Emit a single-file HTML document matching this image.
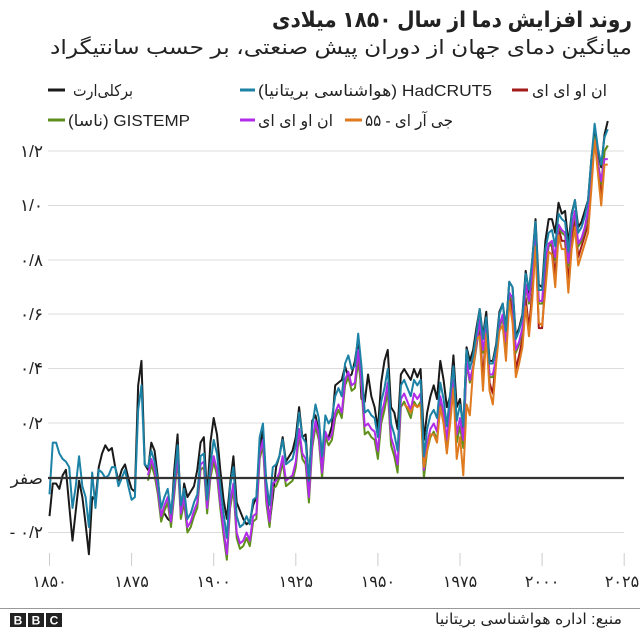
<!DOCTYPE html>
<html><head><meta charset="utf-8"><style>
html,body{margin:0;padding:0;background:#fff;}
svg{display:block;font-family:"Liberation Sans","DejaVu Sans",sans-serif;}
</style></head><body>
<svg width="640" height="631" viewBox="0 0 640 631" xmlns="http://www.w3.org/2000/svg">
<rect width="640" height="631" fill="#fff"/>
<!-- Title -->
<text x="632" y="27" font-size="22" font-weight="bold" fill="#222" direction="rtl" style="direction:rtl;unicode-bidi:embed" text-anchor="start" textLength="360" lengthAdjust="spacingAndGlyphs">روند افزایش دما از سال ۱۸۵۰ میلادی</text>
<text x="632" y="54" font-size="20" fill="#222" direction="rtl" style="direction:rtl;unicode-bidi:embed" text-anchor="start" textLength="582" lengthAdjust="spacingAndGlyphs">میانگین دمای جهان از دوران پیش صنعتی، بر حسب سانتیگراد</text>
<!-- Legend -->
<g stroke-width="3">
<line x1="48" y1="90" x2="65" y2="90" stroke="#1a1a1a"/>
<line x1="240" y1="90" x2="255" y2="90" stroke="#1c82a6"/>
<line x1="512" y1="90" x2="528" y2="90" stroke="#a31a1a"/>
<line x1="48" y1="120" x2="65" y2="120" stroke="#5f8f1c"/>
<line x1="240" y1="120" x2="255" y2="120" stroke="#b12ce8"/>
<line x1="345" y1="120" x2="362" y2="120" stroke="#e07a1f"/>
</g>
<g font-size="16" fill="#222" style="direction:rtl;unicode-bidi:embed" direction="rtl" text-anchor="start">
<text x="133" y="96" textLength="60" lengthAdjust="spacingAndGlyphs">برکلی‌ارت</text>
<text x="492" y="96" textLength="234" lengthAdjust="spacingAndGlyphs">HadCRUT5 (هواشناسی بریتانیا)</text>
<text x="607" y="96" textLength="75" lengthAdjust="spacingAndGlyphs">ان او ای ای</text>
<text x="190" y="126" textLength="122" lengthAdjust="spacingAndGlyphs">GISTEMP (ناسا)</text>
<text x="333" y="126" textLength="75" lengthAdjust="spacingAndGlyphs">ان او ای ای</text>
<text x="453" y="126" textLength="88" lengthAdjust="spacingAndGlyphs">جی آر ای - ۵۵</text>
</g>
<!-- Grid -->
<g stroke="#dcdcdc" stroke-width="1">
<line x1="48" y1="151" x2="624" y2="151"/>
<line x1="48" y1="205.5" x2="624" y2="205.5"/>
<line x1="48" y1="260" x2="624" y2="260"/>
<line x1="48" y1="314" x2="624" y2="314"/>
<line x1="48" y1="368.5" x2="624" y2="368.5"/>
<line x1="48" y1="423" x2="624" y2="423"/>
<line x1="48" y1="532.5" x2="624" y2="532.5"/>
</g>
<!-- x ticks -->
<g stroke="#cccccc" stroke-width="1">
<line x1="49.5" y1="553" x2="49.5" y2="566"/>
<line x1="131.6" y1="553" x2="131.6" y2="566"/>
<line x1="213.7" y1="553" x2="213.7" y2="566"/>
<line x1="295.8" y1="553" x2="295.8" y2="566"/>
<line x1="377.9" y1="553" x2="377.9" y2="566"/>
<line x1="460" y1="553" x2="460" y2="566"/>
<line x1="542.1" y1="553" x2="542.1" y2="566"/>
<line x1="624.2" y1="553" x2="624.2" y2="566"/>
</g>
<!-- y labels -->
<g font-size="17" fill="#222" text-anchor="end">
<text x="43" y="157">۱/۲</text>
<text x="43" y="211">۱/۰</text>
<text x="43" y="266">۰/۸</text>
<text x="43" y="320">۰/۶</text>
<text x="43" y="374">۰/۴</text>
<text x="43" y="429">۰/۲</text>
<text x="43" y="484">صفر</text>
<text x="43" y="538">- ۰/۲</text>
</g>
<!-- x labels -->
<g font-size="16" fill="#222" text-anchor="middle">
<text x="49.5" y="587">۱۸۵۰</text>
<text x="131.6" y="587">۱۸۷۵</text>
<text x="213.7" y="587">۱۹۰۰</text>
<text x="295.8" y="587">۱۹۲۵</text>
<text x="377.9" y="587">۱۹۵۰</text>
<text x="460" y="587">۱۹۷۵</text>
<text x="542.1" y="587">۲۰۰۰</text>
<text x="622" y="587">۲۰۲۵</text>
</g>
<!-- Data -->
<g transform="matrix(3.284 0 0 -272.5 49.5 478)" fill="none" stroke-width="2" stroke-linejoin="round">
<polyline vector-effect="non-scaling-stroke" stroke="#1a1a1a" points="0,-0.14 1,-0.02 2,-0.02 3,-0.04 4,0.01 5,0.03 6,-0.10 7,-0.23 8,-0.12 9,-0.01 10,-0.07 11,-0.17 12,-0.28 13,-0.07 14,-0.08 15,0.04 16,0.09 17,0.12 18,0.10 19,0.11 20,0.04 21,-0.01 22,0.03 23,0.05 24,0.00 25,-0.04 26,-0.05 27,0.34 28,0.43 29,0.05 30,0.03 31,0.13 32,0.10 33,0.00 34,-0.14 35,-0.13 36,-0.15 37,-0.16 38,0.03 39,0.16 40,-0.14 41,-0.02 42,-0.07 43,-0.05 44,-0.03 45,0.03 46,0.13 47,0.15 48,-0.07 49,0.13 50,0.22 51,0.16 52,0.03 53,-0.08 54,-0.15 55,-0.02 56,0.08 57,-0.09 58,-0.12 59,-0.15 60,-0.17 61,-0.16 62,-0.10 63,-0.07 64,0.10 65,0.18 66,-0.03 67,-0.17 68,-0.07 69,0.04 70,0.08 71,0.15 72,0.06 73,0.08 74,0.10 75,0.15 76,0.26 77,0.15 78,0.16 79,-0.02 80,0.21 81,0.23 82,0.17 83,0.03 84,0.15 85,0.15 86,0.19 87,0.34 88,0.35 89,0.36 90,0.41 91,0.37 92,0.38 93,0.43 94,0.51 95,0.29 96,0.28 97,0.38 98,0.30 99,0.26 100,0.18 101,0.35 102,0.43 103,0.47 104,0.26 105,0.24 106,0.18 107,0.38 108,0.40 109,0.38 110,0.36 111,0.40 112,0.37 113,0.40 114,0.14 115,0.24 116,0.30 117,0.34 118,0.29 119,0.43 120,0.36 121,0.26 122,0.30 123,0.45 124,0.26 125,0.29 126,0.18 127,0.48 128,0.43 129,0.47 130,0.55 131,0.62 132,0.52 133,0.61 134,0.43 135,0.43 136,0.49 137,0.61 138,0.64 139,0.55 140,0.72 141,0.70 142,0.52 143,0.55 144,0.60 145,0.76 146,0.68 147,0.80 148,0.95 149,0.71 150,0.70 151,0.87 152,0.95 153,0.95 154,0.90 155,1.01 156,0.97 157,0.98 158,0.86 159,0.97 160,1.02 161,0.92 162,0.94 163,0.98 164,1.02 165,1.17 166,1.27 167,1.20 168,1.14 169,1.26 170,1.31"/>
<polyline vector-effect="non-scaling-stroke" stroke="#a31a1a" points="129,0.42 130,0.53 131,0.55 132,0.36 133,0.56 134,0.35 135,0.31 136,0.45 137,0.57 138,0.59 139,0.46 140,0.68 141,0.60 142,0.40 143,0.45 144,0.51 145,0.66 146,0.55 147,0.68 148,0.87 149,0.55 150,0.55 151,0.72 152,0.86 153,0.85 154,0.74 155,0.92 156,0.87 157,0.87 158,0.72 159,0.87 160,0.95 161,0.81 162,0.85 163,0.89 164,0.93 165,1.09 166,1.25 167,1.16 168,1.02 169,1.20 170,1.22"/>
<polyline vector-effect="non-scaling-stroke" stroke="#5f8f1c" points="30,-0.01 31,0.05 32,0.01 33,-0.06 34,-0.16 35,-0.12 36,-0.09 37,-0.18 38,-0.06 39,0.07 40,-0.15 41,-0.09 42,-0.20 43,-0.18 44,-0.14 45,-0.11 46,0.03 47,0.04 48,-0.13 49,0.00 50,0.06 51,0.01 52,-0.11 53,-0.21 54,-0.30 55,-0.11 56,-0.04 57,-0.22 58,-0.26 59,-0.25 60,-0.22 61,-0.25 62,-0.16 63,-0.15 64,0.07 65,0.12 66,-0.09 67,-0.18 68,-0.04 69,-0.03 70,0.00 71,0.06 72,-0.03 73,-0.02 74,-0.01 75,0.04 76,0.16 77,0.07 78,0.05 79,-0.09 80,0.11 81,0.19 82,0.14 83,0.00 84,0.15 85,0.12 86,0.14 87,0.22 88,0.25 89,0.22 90,0.34 91,0.37 92,0.32 93,0.33 94,0.43 95,0.33 96,0.16 97,0.17 98,0.15 99,0.14 100,0.07 101,0.20 102,0.25 103,0.32 104,0.12 105,0.08 106,0.02 107,0.26 108,0.28 109,0.25 110,0.22 111,0.28 112,0.26 113,0.28 114,0.00 115,0.10 116,0.15 117,0.17 118,0.14 119,0.27 120,0.21 121,0.11 122,0.23 123,0.33 124,0.13 125,0.19 126,0.11 127,0.42 128,0.35 129,0.40 130,0.48 131,0.57 132,0.46 133,0.54 134,0.37 135,0.37 136,0.43 137,0.55 138,0.59 139,0.49 140,0.67 141,0.65 142,0.46 143,0.49 144,0.54 145,0.70 146,0.64 147,0.75 148,0.89 149,0.64 150,0.64 151,0.79 152,0.85 153,0.86 154,0.80 155,0.92 156,0.90 157,0.89 158,0.78 159,0.91 160,0.97 161,0.85 162,0.87 163,0.91 164,0.97 165,1.12 166,1.25 167,1.16 168,1.08 169,1.20 170,1.22"/>
<polyline vector-effect="non-scaling-stroke" stroke="#b12ce8" points="30,0.01 31,0.07 32,0.03 33,-0.04 34,-0.14 35,-0.10 36,-0.07 37,-0.16 38,-0.04 39,0.09 40,-0.13 41,-0.07 42,-0.18 43,-0.16 44,-0.12 45,-0.09 46,0.05 47,0.06 48,-0.11 49,0.02 50,0.08 51,0.03 52,-0.09 53,-0.19 54,-0.28 55,-0.09 56,-0.02 57,-0.20 58,-0.24 59,-0.23 60,-0.20 61,-0.23 62,-0.14 63,-0.13 64,0.09 65,0.14 66,-0.07 67,-0.16 68,-0.02 69,-0.01 70,0.02 71,0.08 72,-0.01 73,0.00 74,0.01 75,0.06 76,0.18 77,0.09 78,0.07 79,-0.07 80,0.13 81,0.21 82,0.16 83,0.02 84,0.17 85,0.14 86,0.16 87,0.24 88,0.27 89,0.24 90,0.36 91,0.39 92,0.34 93,0.35 94,0.47 95,0.35 96,0.19 97,0.20 98,0.18 99,0.17 100,0.10 101,0.23 102,0.28 103,0.35 104,0.15 105,0.11 106,0.05 107,0.29 108,0.31 109,0.28 110,0.25 111,0.31 112,0.29 113,0.31 114,0.03 115,0.13 116,0.18 117,0.20 118,0.17 119,0.30 120,0.24 121,0.14 122,0.26 123,0.36 124,0.16 125,0.22 126,0.14 127,0.43 128,0.36 129,0.41 130,0.49 131,0.58 132,0.47 133,0.55 134,0.38 135,0.38 136,0.44 137,0.56 138,0.60 139,0.50 140,0.68 141,0.66 142,0.47 143,0.50 144,0.55 145,0.71 146,0.65 147,0.76 148,0.90 149,0.65 150,0.65 151,0.80 152,0.86 153,0.87 154,0.81 155,0.93 156,0.91 157,0.90 158,0.79 159,0.92 160,0.98 161,0.86 162,0.88 163,0.92 164,0.98 165,1.13 166,1.24 167,1.15 168,1.09 169,1.17 170,1.17"/>
<polyline vector-effect="non-scaling-stroke" stroke="#e07a1f" points="108,0.27 109,0.26 110,0.24 111,0.27 112,0.26 113,0.27 114,0.04 115,0.10 116,0.16 117,0.16 118,0.13 119,0.26 120,0.20 121,0.09 122,0.20 123,0.33 124,0.07 125,0.15 126,0.01 127,0.27 128,0.23 129,0.40 130,0.51 131,0.52 132,0.32 133,0.53 134,0.32 135,0.27 136,0.42 137,0.54 138,0.56 139,0.43 140,0.65 141,0.57 142,0.37 143,0.42 144,0.48 145,0.63 146,0.52 147,0.65 148,0.85 149,0.57 150,0.56 151,0.69 152,0.83 153,0.82 154,0.70 155,0.89 156,0.84 157,0.84 158,0.68 159,0.84 160,0.92 161,0.78 162,0.82 163,0.86 164,0.90 165,1.06 166,1.24 167,1.12 168,1.00 169,1.15 170,1.15"/>
<polyline vector-effect="non-scaling-stroke" stroke="#1c82a6" points="0,-0.06 1,0.13 2,0.13 3,0.09 4,0.07 5,0.06 6,0.04 7,-0.11 8,-0.03 9,0.08 10,-0.03 11,-0.07 12,-0.18 13,0.02 14,-0.11 15,0.03 16,0.02 17,0.00 18,0.01 19,0.04 20,0.04 21,-0.03 22,0.00 23,0.03 24,-0.03 25,-0.08 26,-0.07 27,0.25 28,0.34 29,0.05 30,0.04 31,0.10 32,0.06 33,-0.01 34,-0.11 35,-0.07 36,-0.04 37,-0.13 38,-0.01 39,0.12 40,-0.10 41,-0.04 42,-0.15 43,-0.13 44,-0.09 45,-0.06 46,0.08 47,0.09 48,-0.08 49,0.05 50,0.14 51,0.09 52,-0.03 53,-0.13 54,-0.22 55,-0.03 56,0.04 57,-0.14 58,-0.18 59,-0.17 60,-0.14 61,-0.17 62,-0.08 63,-0.07 64,0.15 65,0.20 66,-0.01 67,-0.10 68,0.04 69,0.05 70,0.08 71,0.14 72,0.05 73,0.06 74,0.07 75,0.12 76,0.24 77,0.15 78,0.13 79,-0.01 80,0.19 81,0.27 82,0.22 83,0.08 84,0.23 85,0.20 86,0.22 87,0.30 88,0.33 89,0.30 90,0.42 91,0.45 92,0.40 93,0.41 94,0.53 95,0.41 96,0.24 97,0.25 98,0.23 99,0.22 100,0.15 101,0.28 102,0.33 103,0.40 104,0.20 105,0.16 106,0.10 107,0.34 108,0.36 109,0.33 110,0.30 111,0.36 112,0.34 113,0.36 114,0.08 115,0.18 116,0.23 117,0.25 118,0.22 119,0.35 120,0.29 121,0.19 122,0.31 123,0.41 124,0.21 125,0.27 126,0.19 127,0.47 128,0.40 129,0.45 130,0.53 131,0.62 132,0.51 133,0.59 134,0.42 135,0.42 136,0.48 137,0.60 138,0.64 139,0.54 140,0.72 141,0.70 142,0.51 143,0.54 144,0.59 145,0.75 146,0.69 147,0.80 148,0.94 149,0.69 150,0.69 151,0.84 152,0.90 153,0.91 154,0.85 155,0.97 156,0.95 157,0.94 158,0.83 159,0.96 160,1.02 161,0.90 162,0.92 163,0.96 164,1.02 165,1.17 166,1.30 167,1.21 168,1.15 169,1.25 170,1.28"/>
</g>
<!-- zero line -->
<line x1="48" y1="478" x2="624" y2="478" stroke="#333" stroke-width="2.2"/>
<!-- Footer -->
<line x1="0" y1="608.5" x2="640" y2="608.5" stroke="#999" stroke-width="1"/>
<g>
<rect x="10" y="613" width="16" height="14" fill="#222"/>
<rect x="28" y="613" width="16" height="14" fill="#222"/>
<rect x="46" y="613" width="16" height="14" fill="#222"/>
<g font-size="12" font-weight="bold" fill="#fff" text-anchor="middle">
<text x="18" y="624.5">B</text>
<text x="36" y="624.5">B</text>
<text x="54" y="624.5">C</text>
</g>
</g>
<text x="622" y="624" font-size="15" fill="#222" direction="rtl" style="direction:rtl;unicode-bidi:embed" text-anchor="start" textLength="187" lengthAdjust="spacingAndGlyphs">منبع: اداره هواشناسی بریتانیا</text>
</svg>
</body></html>
